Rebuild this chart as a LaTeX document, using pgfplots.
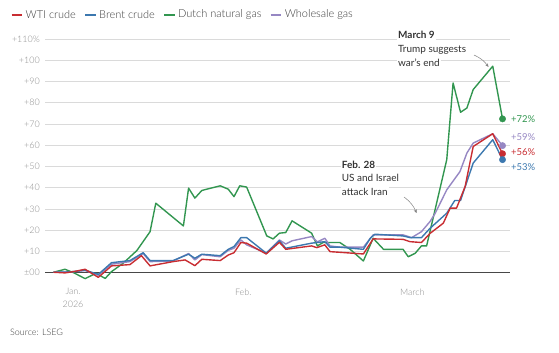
\documentclass[border=0pt]{standalone}
\usepackage{pgfplots}
\pgfplotsset{compat=1.18}
\usepackage{fontspec}
\setmainfont{Lato}
\newfontfamily\lightfont{Lato}[UprightFont={* Light}]
\usetikzlibrary{arrows.meta}
\definecolor{wti}{RGB}{200,45,50}
\definecolor{brent}{RGB}{60,120,175}
\definecolor{dutch}{RGB}{50,150,80}
\definecolor{whole}{RGB}{150,135,195}
\definecolor{gridc}{RGB}{218,218,218}
\definecolor{tickc}{RGB}{140,140,140}
\definecolor{txt}{RGB}{60,60,60}
\definecolor{ann}{RGB}{50,50,50}

\pgfplotstableread{
d v
-3.4 0.2
-1.4 1.6
0.1 0
2.1 -2.8
4.0 -0.3
5.6 -2.7
6.7 0.5
8.7 4.4
11.1 10.4
13.4 19.3
14.4 32.7
19.2 22.0
20.1 39.8
21.2 35.1
22.4 38.7
25.6 40.9
27.0 39.3
28.0 35.8
29.0 40.9
30.2 40.3
33.7 17.3
34.8 15.9
35.9 18.6
37.0 18.9
38.1 24.4
41.5 18.6
42.5 12.6
43.5 14.2
46.4 14.2
48.2 11.0
50.5 5.5
52.2 16.2
54.0 11.0
57.4 11.0
58.3 7.5
59.5 9.1
60.6 12.6
61.5 12.6
65.0 53.2
66.1 89.3
67.4 75.5
68.5 77.5
69.6 86.2
73.0 97.2
74.7 72.4
}\dutchtab

\pgfplotstableread{
d v
-3.4 0.2
-1.4 -0.1
0.1 0.5
2.1 1.6
4.4 -2.2
6.7 3.2
9.9 3.8
11.9 8.0
13.4 3.2
17.4 5.2
19.5 6.0
21.2 3.3
22.4 6.3
25.6 5.7
27.0 8.3
28.0 9.4
29.2 14.2
30.2 13.9
33.6 8.8
35.9 14.3
37.0 11.0
41.5 12.6
42.4 11.8
43.8 13.1
44.7 9.9
46.4 9.6
50.5 8.8
52.2 15.9
57.4 15.7
58.6 14.6
60.6 14.2
62.1 18.5
64.4 23.3
65.6 30.4
66.7 30.4
68.2 40.6
69.6 59.4
73.0 65.4
74.7 56.0
}\wtitab

\pgfplotstableread{
d v
-3.4 0.2
-1.4 0.3
0.1 0.5
2.1 1.2
4.4 -0.8
6.7 4.7
9.9 5.7
12.2 9.4
13.4 5.7
17.4 5.7
20.1 8.7
21.2 6.8
22.4 8.7
25.6 8.0
27.0 11.0
28.0 12.3
29.2 16.5
30.2 16.5
33.6 9.2
35.9 15.0
37.0 11.5
41.5 13.9
43.8 14.6
44.7 12.0
46.4 12.0
50.5 11.0
51.7 16.2
52.5 18.1
57.4 17.3
58.6 16.5
60.6 16.5
62.1 20.9
65.0 28.0
66.4 34.0
67.4 34.0
69.6 51.6
73.0 62.6
74.7 53.2
}\brenttab

\pgfplotstableread{
d v
-3.4 0.2
-1.4 0.3
0.1 0.5
2.1 1.0
4.4 -1.2
6.7 4.0
9.9 5.2
12.2 9.0
13.4 5.2
17.4 5.5
20.1 9.0
21.2 6.0
22.4 8.5
25.6 7.5
27.0 10.5
28.0 11.5
29.2 15.4
30.2 13.1
33.6 9.2
35.9 15.4
37.0 13.5
38.1 15.0
41.5 17.0
42.5 14.5
43.8 16.2
44.7 12.6
46.4 12.0
50.5 12.0
52.2 17.8
57.4 17.8
58.9 16.5
60.6 19.3
62.1 24.1
63.0 28.0
65.0 39.0
67.3 47.6
68.5 56.3
69.6 61.0
73.0 65.4
74.7 59.8
}\wholetab

\begin{document}
\begin{tikzpicture}
\path[use as bounding box] (0,0) rectangle (559bp,353bp);
\begin{axis}[
  at={(45bp,69.7bp)}, anchor=south west,
  width=465bp, height=244.3bp, scale only axis,
  xmin=-4.87, xmax=76.0, ymin=-5, ymax=110,
  axis line style={draw=none},
  major tick length=0pt,
  clip=false,
  ytick={0,10,...,110},
  yticklabels={{±00},{+10},{+20},{+30},{+40},{+50},{+60},{+70},{+80},{+90},{+100},{+110\%}},
  yticklabel style={font=\lightfont\fontsize{9}{10}\selectfont, text=tickc, inner sep=0pt, anchor=east, xshift=-5bp},
  ymajorgrids,
  grid style={draw=gridc, line width=0.8pt},
  extra y ticks={0},
  extra y tick labels={},
  extra y tick style={grid style={draw=black!72, line width=0.9pt}},
  xtick={0,29.6,59},
  xticklabels={{Jan.\\2026},{Feb.},{March}},
  xticklabel style={font=\lightfont\fontsize{9}{13}\selectfont, text=tickc, align=center, inner sep=0pt, anchor=north, yshift=-5bp},
]
\addplot[dutch, line width=1.4pt, line join=round] table[x=d,y=v] {\dutchtab};
\addplot[whole, line width=1.4pt, line join=round] table[x=d,y=v] {\wholetab};
\addplot[brent, line width=1.4pt, line join=round] table[x=d,y=v] {\brenttab};
\addplot[wti, line width=1.4pt, line join=round] table[x=d,y=v] {\wtitab};
\addplot[only marks, mark=*, mark size=3.2pt, dutch] coordinates {(74.7,72.4)};
\addplot[only marks, mark=*, mark size=3.2pt, whole] coordinates {(74.7,59.8)};
\addplot[only marks, mark=*, mark size=3.2pt, wti] coordinates {(74.7,56.0)};
\addplot[only marks, mark=*, mark size=3.2pt, brent] coordinates {(74.7,53.2)};
\end{axis}

% legend
\begin{scope}[font=\lightfont\fontsize{11}{12}\selectfont, text=txt]
\draw[wti, line width=1.5pt] (11.7bp,338bp) -- (21.7bp,338bp);
\node[anchor=west, inner sep=0pt] (t1) at (25.5bp,338bp) {WTI crude};
\draw[brent, line width=1.5pt] ([xshift=9bp]t1.east) -- ++(10.5bp,0) coordinate (e2);
\node[anchor=west, inner sep=0pt] (t2) at ([xshift=3.5bp]e2) {Brent crude};
\draw[dutch, line width=1.5pt] ([xshift=9bp]t2.east) -- ++(10.5bp,0) coordinate (e3);
\node[anchor=west, inner sep=0pt] (t3) at ([xshift=3.5bp]e3) {Dutch natural gas};
\draw[whole, line width=1.5pt] ([xshift=9bp]t3.east) -- ++(10.5bp,0) coordinate (e4);
\node[anchor=west, inner sep=0pt] (t4) at ([xshift=3.5bp]e4) {Wholesale gas};
\end{scope}

% end labels
\begin{scope}[font=\fontsize{9.5}{11}\selectfont, inner sep=0pt, anchor=west]
\node[text=dutch, anchor=west] at (511bp,234bp) {+72\%};
\node[text=whole, anchor=west] at (511bp,215.7bp) {+59\%};
\node[text=wti, anchor=west] at (511bp,200.7bp) {+56\%};
\node[text=brent, anchor=west] at (511bp,185.7bp) {+53\%};
\end{scope}

% annotations
\begin{scope}[font=\fontsize{10}{12}\selectfont, text=ann, inner sep=1bp, fill=white]
\node[anchor=base west, fill=white] at (397bp,314bp) {\bfseries March 9};
\node[anchor=base west, fill=white] at (397bp,300bp) {Trump suggests};
\node[anchor=base west, fill=white] at (397bp,286.5bp) {war's end};
\node[anchor=base west, fill=white] at (340.7bp,184.5bp) {\bfseries Feb. 28};
\node[anchor=base west, fill=white] at (340.7bp,171bp) {US and Israel};
\node[anchor=base west, fill=white] at (340.7bp,157.5bp) {attack Iran};
\end{scope}
\draw[gray, line width=0.5pt, -{Stealth[length=3.5bp,width=3bp]}] (474bp,298bp) to[bend left=15] (488.5bp,286bp);
\draw[gray, line width=0.5pt, -{Stealth[length=3.5bp,width=3bp]}] (404bp,156bp) to[bend left=15] (416.5bp,140bp);

\node[anchor=west, inner sep=0pt, font=\lightfont\fontsize{9}{10}\selectfont, text=txt] at (10bp,20.3bp) {Source: LSEG};
\end{tikzpicture}
\end{document}
